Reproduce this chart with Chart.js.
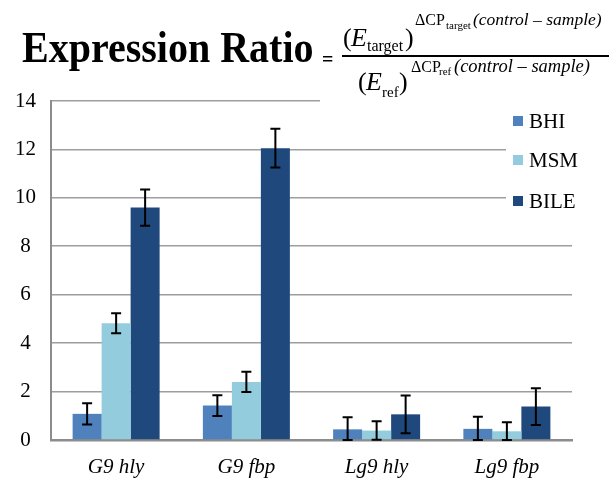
<!DOCTYPE html>
<html>
<head>
<meta charset="utf-8">
<script src="https://cdn.jsdelivr.net/npm/chart.js@4/dist/chart.umd.min.js"></script>
<style>
  body { margin: 0; background: #fff; }
  #wrap { width: 613px; height: 480px; }
</style>
</head>
<body>
<div id="wrap"><canvas id="chart"></canvas></div>
<script>
let genes = ['G9 hly', 'G9 fbp', 'Lg9 hly', 'Lg9 fbp'];
let seriesNames = ['BHI', 'MSM', 'BILE'];
let bhi = [1.08, 1.42, 0.44, 0.46];
let msm = [4.82, 2.40, 0.39, 0.36];
let bile = [9.6, 12.05, 1.06, 1.38];
let bhiErr = [0.44, 0.43, 0.5, 0.5];
let msmErr = [0.41, 0.42, 0.38, 0.37];
let bileErr = [0.75, 0.8, 0.78, 0.76];
let yTicks = [0, 2, 4, 6, 8, 10, 12, 14];
let colors = ['#4F81BD', '#93CDDD', '#1F497D'];

let serif = '"Liberation Serif", "Times New Roman", serif';

// each piece of the formula is placed at its own x
function drawPieces(ctx, pieces, y) {
    pieces.forEach(p => {
        ctx.font = p.f;
        ctx.fillText(p.t, p.x, y + (p.dy || 0));
    });
}

let errorBars = {
    id: 'errorBars',
    afterDatasetsDraw(chart) {
        let ctx = chart.ctx;
        let y = chart.scales.y;
        let errs = [bhiErr, msmErr, bileErr];
        ctx.save();
        ctx.strokeStyle = '#000';
        ctx.lineWidth = 2;
        chart.data.datasets.forEach((ds, i) => {
            let meta = chart.getDatasetMeta(i);
            meta.data.forEach((bar, j) => {
                let v = ds.data[j];
                let e = errs[i][j];
                let top = y.getPixelForValue(v + e);
                let bot = y.getPixelForValue(Math.max(v - e, 0));
                ctx.beginPath();
                ctx.moveTo(bar.x, top);
                ctx.lineTo(bar.x, bot);
                ctx.moveTo(bar.x - 5, top);
                ctx.lineTo(bar.x + 5, top);
                ctx.moveTo(bar.x - 5, bot);
                ctx.lineTo(bar.x + 5, bot);
                ctx.stroke();
            });
        });
        ctx.restore();
    }
};

let decor = {
    id: 'decor',
    beforeDraw(chart) {
        let ctx = chart.ctx;
        ctx.save();
        ctx.fillStyle = '#fff';
        ctx.fillRect(0, 0, chart.width, chart.height);
        ctx.restore();
    },
    afterDraw(chart) {
        let ctx = chart.ctx;
        ctx.save();
        // formula and legend sit on white boxes over the plot
        ctx.fillStyle = '#fff';
        ctx.fillRect(320, 0, 293, 103);
        ctx.fillRect(506, 103, 107, 120);

        ctx.fillStyle = '#000';
        ctx.textBaseline = 'alphabetic';
        ctx.save();
        ctx.translate(22, 62);
        ctx.scale(1, 1.13);
        ctx.font = 'bold 40px ' + serif;
        ctx.fillText('Expression Ratio', 0, 0);
        ctx.restore();

        ctx.font = 'bold 20px ' + serif;
        ctx.fillText('=', 322, 66);
        ctx.fillRect(342, 55, 267, 2);

        drawPieces(ctx, [
            { t: '(', x: 343, f: '26px ' + serif },
            { t: 'E', x: 351, f: 'italic 26px ' + serif },
            { t: 'target', x: 367, f: '16px ' + serif, dy: 5 },
            { t: ')', x: 405, f: '26px ' + serif },
            { t: '\u0394CP', x: 415, f: '16px ' + serif, dy: -21 },
            { t: 'target', x: 446, f: '11px ' + serif, dy: -17 },
            { t: '(control \u2013 sample)', x: 473, f: 'italic 17.5px ' + serif, dy: -21 }
        ], 46);

        drawPieces(ctx, [
            { t: '(', x: 358, f: '26px ' + serif },
            { t: 'E', x: 366, f: 'italic 26px ' + serif },
            { t: 'ref', x: 382, f: '15px ' + serif, dy: 7 },
            { t: ')', x: 399, f: '26px ' + serif },
            { t: '\u0394CP', x: 411, f: '16px ' + serif, dy: -18 },
            { t: 'ref', x: 439, f: '11px ' + serif, dy: -15 },
            { t: '(control \u2013 sample)', x: 454, f: 'italic 18.5px ' + serif, dy: -18 }
        ], 90);

        // legend
        let rows = [121, 160, 201];
        ctx.textBaseline = 'middle';
        ctx.font = '21px ' + serif;
        seriesNames.forEach((name, i) => {
            ctx.fillStyle = colors[i];
            ctx.fillRect(513, rows[i] - 5, 10, 10);
            ctx.fillStyle = '#000';
            ctx.fillText(name, 529, rows[i] + 1);
        });
        ctx.restore();
    }
};

let ctx = document.getElementById('chart').getContext('2d');

let chart = new Chart(ctx, {
    type: 'bar',
    data: {
        labels: genes,
        datasets: [
            { label: seriesNames[0], data: bhi, backgroundColor: colors[0] },
            { label: seriesNames[1], data: msm, backgroundColor: colors[1] },
            { label: seriesNames[2], data: bile, backgroundColor: colors[2] }
        ]
    },
    options: {
        responsive: true,
        maintainAspectRatio: false,
        animation: false,
        layout: { padding: { top: 101, right: 41, left: 0, bottom: 0 } },
        datasets: {
            bar: { barPercentage: 1, categoryPercentage: 0.668, borderWidth: 0 }
        },
        plugins: {
            legend: { display: false },
            tooltip: { enabled: false }
        },
        scales: {
            x: {
                grid: { display: false },
                border: { color: '#8c8c8c', width: 2.5 },
                ticks: {
                    color: '#000',
                    padding: 7,
                    font: { family: serif, size: 21, style: 'italic' }
                },
                afterFit(s) { s.height = 40; }
            },
            y: {
                min: 0,
                max: 14,
                afterBuildTicks(s) { s.ticks = yTicks.map(v => ({ value: v })); },
                grid: { color: '#9e9e9e', lineWidth: 1.6, drawTicks: false },
                border: { color: '#8c8c8c', width: 2 },
                ticks: {
                    color: '#000',
                    padding: 15,
                    crossAlign: 'center',
                    font: { family: serif, size: 21 }
                },
                afterFit(s) { s.width = 51; }
            }
        }
    },
    plugins: [decor, errorBars]
});
</script>
</body>
</html>
